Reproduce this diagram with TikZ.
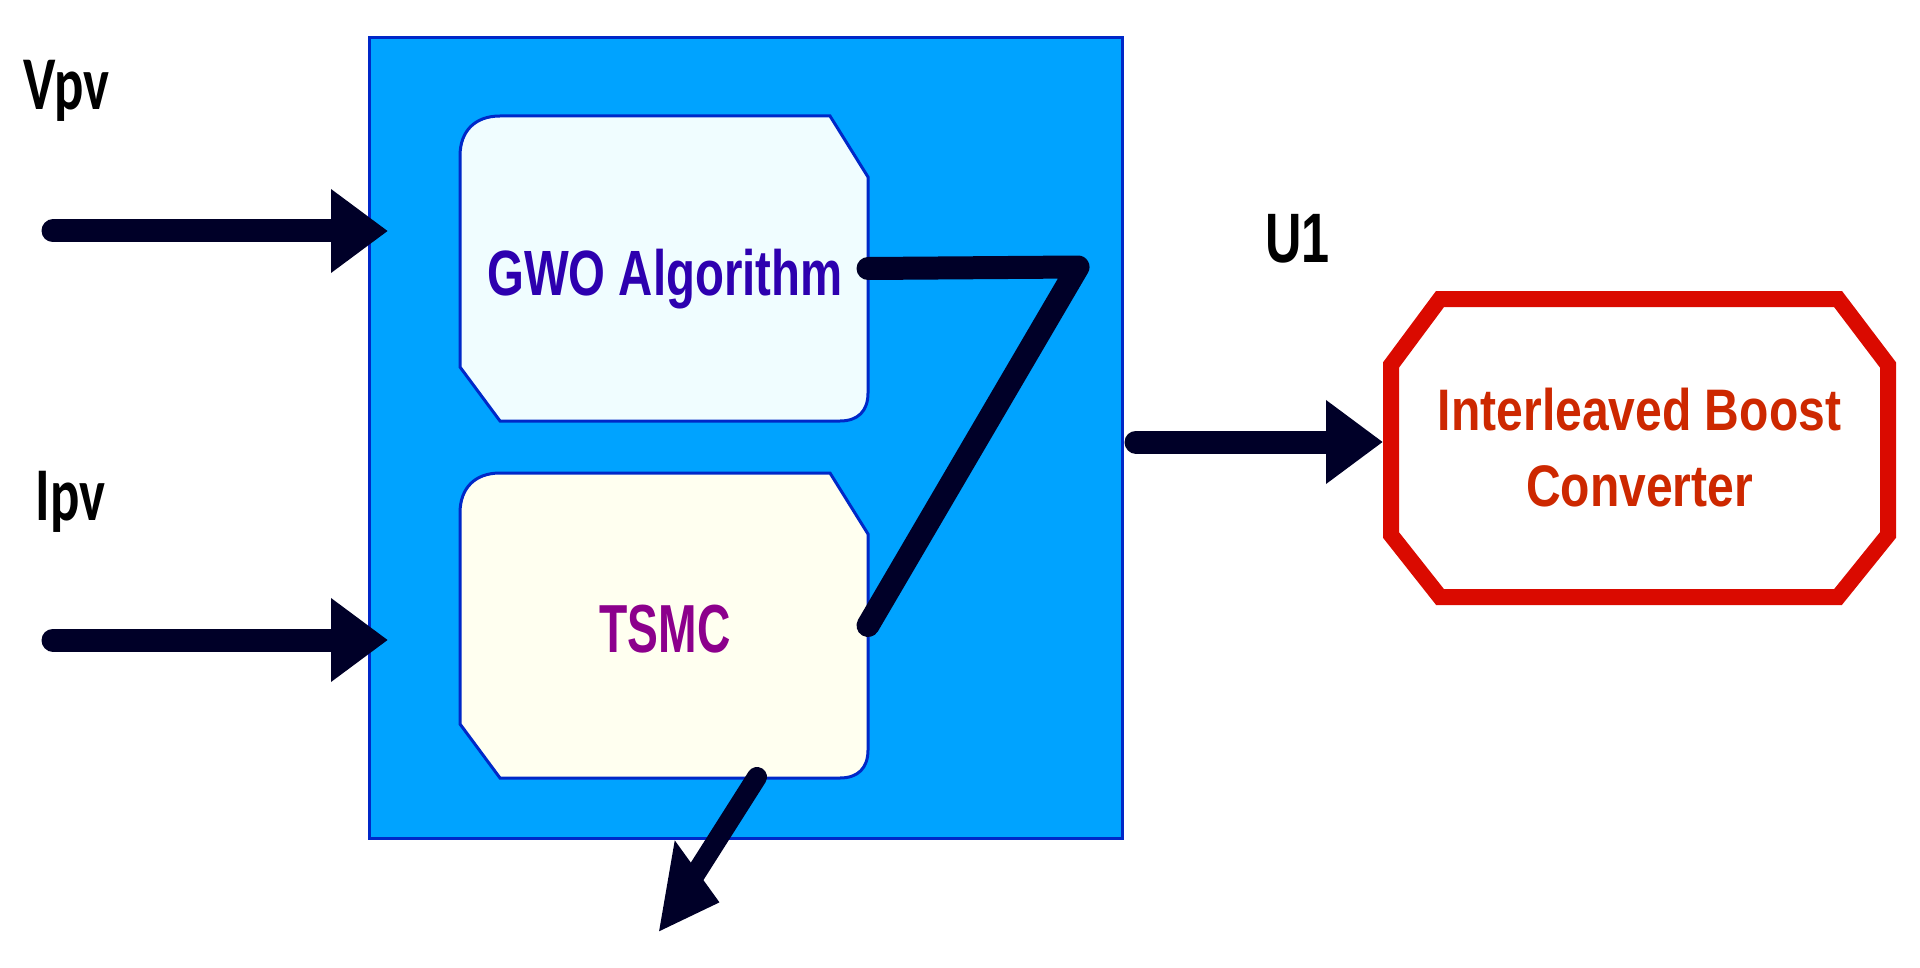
\documentclass[tikz,border=0pt]{standalone}
\usepackage{fontspec}
\usetikzlibrary{arrows.meta,calc}
\newfontfamily\fgwo[FakeStretch=0.74]{Liberation Sans}
\newfontfamily\fibc[FakeStretch=0.82]{Liberation Sans}
\newfontfamily\ftsmc[FakeStretch=0.68]{Liberation Sans}
\newfontfamily\fu[FakeStretch=0.72]{Liberation Sans}
\newfontfamily\flab[FakeStretch=0.72]{Carlito}
\definecolor{navyk}{RGB}{0,0,40}
\definecolor{ctrlblue}{RGB}{0,163,255}
\definecolor{edgeblue}{RGB}{0,40,200}
\definecolor{gwofill}{RGB}{240,253,255}
\definecolor{tsmcfill}{RGB}{255,255,240}
\definecolor{gwotext}{RGB}{45,0,175}
\definecolor{tsmctext}{RGB}{140,0,140}
\definecolor{ibcred}{RGB}{218,10,0}
\definecolor{ibctext}{RGB}{205,40,0}
\pgfdeclarelayer{bg}\pgfdeclarelayer{mid}\pgfsetlayers{bg,mid,main}
\newcommand\chipshape[2]{%
 \begin{pgfonlayer}{mid}
 \filldraw[fill=#2,draw=edgeblue,line width=1.5pt]
  ($(#1.north west)+(0,40)$) .. controls ($(#1.north west)+(0,15)$) and ($(#1.north west)+(15,0)$) .. ($(#1.north west)+(40,0)$)
  -- ($(#1.north east)+(-38,0)$) -- ($(#1.north east)+(0,61)$)
  -- ($(#1.south east)+(0,-28)$) .. controls ($(#1.south east)+(0,-10)$) and ($(#1.south east)+(-10,0)$) .. ($(#1.south east)+(-28,0)$)
  -- ($(#1.south west)+(40,0)$) -- ($(#1.south west)+(0,-54)$) -- cycle;
 \end{pgfonlayer}}
\begin{document}
\begin{tikzpicture}[x=0.5pt,y=-0.5pt,
  wire/.style={draw=navyk,line width=11.5pt,line cap=round,line join=round},
  arr/.style={wire,-{Triangle[length=28.5pt,width=40pt]}},
  arrtwo/.style={wire,line width=10pt,-{Triangle[length=36.5pt,width=32.5pt,slant=0.4]}},
  chip/.style={inner sep=0pt,outer sep=0pt,minimum width=204pt,minimum height=152.5pt},
  lbl/.style={anchor=base west,inner sep=0pt,text=black}]
\useasboundingbox (0,0) rectangle (1920,968);
% main controller block
\node[inner sep=0pt,outer sep=0pt,minimum width=376.5pt,minimum height=400pt] (ctrl) at (745.5,438) {};
\begin{pgfonlayer}{bg}
\filldraw[fill=ctrlblue,draw=edgeblue,line width=1.5pt] (ctrl.north west) rectangle (ctrl.south east);
\end{pgfonlayer}
% inner blocks
\node[chip] (gwo) at (664,268.5) {};
\node[chip] (tsmc) at (664,625.5) {};
\chipshape{gwo}{gwofill}
\chipshape{tsmc}{tsmcfill}
\node[anchor=base,inner sep=0pt,text=gwotext,font=\fgwo\bfseries\fontsize{32}{38}\selectfont] (gwot) at (665,295) {GWO Algorithm};
\node[anchor=base,inner sep=0pt,text=tsmctext,font=\ftsmc\bfseries\fontsize{34}{40}\selectfont] (tsmct) at (665,652) {TSMC};
% converter
\node[inner sep=0pt,outer sep=0pt,minimum width=248.5pt,minimum height=149pt,align=center,text=ibctext,font=\fibc\bfseries\fontsize{29.3}{38}\selectfont] (ibc) at (1639.5,448) {Interleaved Boost\\Converter};
\begin{pgfonlayer}{mid}
\filldraw[draw=ibcred,fill=white,line width=8pt,line join=miter]
 ($(ibc.north west)+(0,66)$) -- ($(ibc.north west)+(49,0)$) -- ($(ibc.north east)+(-50,0)$) -- ($(ibc.north east)+(0,66)$)
 -- ($(ibc.south east)+(0,-62)$) -- ($(ibc.south east)+(-50,0)$) -- ($(ibc.south west)+(49,0)$) -- ($(ibc.south west)+(0,-62)$) -- cycle;
\end{pgfonlayer}
% labels
\node[lbl,font=\flab\bfseries\fontsize{38}{40}\selectfont] (vpv) at (23,110) {Vpv};
\node[lbl,font=\flab\bfseries\fontsize{38}{40}\selectfont] (ipv) at (35,520) {Ipv};
\node[lbl,font=\fu\bfseries\fontsize{35}{40}\selectfont] (u1) at (1265,263) {U1};
% connectors
\coordinate (vs) at (53,231);
\coordinate (is) at (53,640);
\coordinate (us) at (1136,442);
\coordinate (zc) at (1078,267);
\draw[arr,shorten >=-9.5pt] (vs) -- (vs -| ctrl.west);
\draw[arr,shorten >=-9.5pt] (is) -- (is -| ctrl.west);
\draw[arr,shorten >=4pt] (us) -- (us -| ibc.west);
\draw[wire] (gwo.east) -- (zc) -- (tsmc.east);
\coordinate (bt) at (658,933);
\draw[arrtwo] ($(tsmc.south)+(93,-1)$) -- (bt);
\end{tikzpicture}
\end{document}
